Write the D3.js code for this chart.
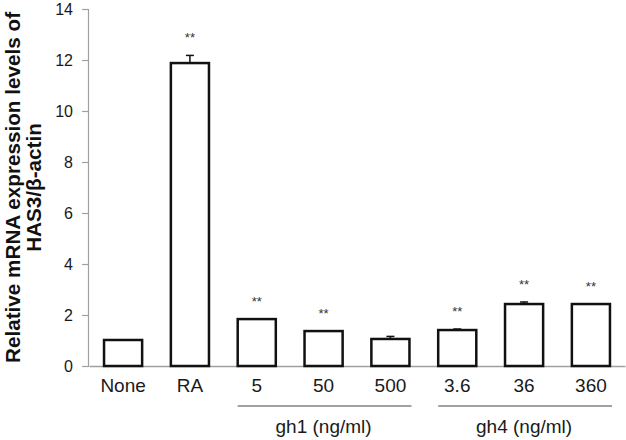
<!DOCTYPE html>
<html>
<head>
<meta charset="utf-8">
<script src="https://cdn.jsdelivr.net/npm/d3@7"></script>
<style>
  body { margin: 0; background: #fff; }
  svg text { font-family: "Liberation Sans", Arial, sans-serif; }
</style>
</head>
<body>
<div id="chart"></div>
<script>
var categories = ['None', 'RA', '5', '50', '500', '3.6', '36', '360'];
var values = [1.02, 11.88, 1.84, 1.37, 1.06, 1.41, 2.43, 2.43];
var errors = [0, 0.3, 0, 0, 0.1, 0.04, 0.08, 0];
var stars = ['', '**', '**', '**', '', '**', '**', '**'];
var yTicks = [0, 2, 4, 6, 8, 10, 12, 14];
var groups = [
  { label: 'gh1 (ng/ml)', from: '5', to: '500' },
  { label: 'gh4 (ng/ml)', from: '3.6', to: '360' }
];

var width = 626, height = 440;
var margin = {top: 9, right: 1, bottom: 74, left: 88};

var svg = d3.select('#chart').append('svg')
    .attr('width', width)
    .attr('height', height);

var x = d3.scaleBand()
    .domain(categories)
    .range([margin.left + 1, width - margin.right])
    .paddingInner(0.43)
    .paddingOuter(0.225);

var y = d3.scaleLinear()
    .domain([0, 14])
    .range([height - margin.bottom, margin.top]);

// y axis
var yAxis = svg.append('g')
    .attr('transform', 'translate(' + margin.left + ',0)')
    .call(d3.axisLeft(y).tickValues(yTicks).tickSize(6).tickPadding(9));
yAxis.select('.domain').attr('stroke', '#a0a0a0').attr('stroke-width', 1.2);
yAxis.selectAll('.tick line').attr('stroke', '#a0a0a0').attr('stroke-width', 1.2);
yAxis.selectAll('.tick text')
    .attr('fill', '#1a1a1a')
    .style('font-size', '16px');

// x axis baseline
var xAxis = svg.append('g')
    .attr('transform', 'translate(0,' + y(0) + ')')
    .call(d3.axisBottom(x).tickSize(0).tickPadding(13));
xAxis.select('.domain').attr('stroke', '#a0a0a0').attr('stroke-width', 1.5);
xAxis.selectAll('.tick text')
    .attr('fill', '#1a1a1a')
    .style('font-size', '19px');

// bars
svg.selectAll('.bar')
    .data(categories)
    .enter().append('rect')
    .attr('class', 'bar')
    .attr('x', d => x(d))
    .attr('y', (d, i) => y(values[i]))
    .attr('width', x.bandwidth())
    .attr('height', (d, i) => y(0) - y(values[i]))
    .attr('fill', '#fff')
    .attr('stroke', '#111')
    .attr('stroke-width', 2.5);

// error bars
var errG = svg.selectAll('.err')
    .data(categories.filter((d, i) => errors[i] > 0))
    .enter().append('g')
    .attr('class', 'err');
errG.append('line')
    .attr('x1', d => x(d) + x.bandwidth() / 2)
    .attr('x2', d => x(d) + x.bandwidth() / 2)
    .attr('y1', d => y(values[categories.indexOf(d)]))
    .attr('y2', d => { var i = categories.indexOf(d); return y(values[i] + errors[i]); })
    .attr('stroke', '#111').attr('stroke-width', 1.5);
errG.append('line')
    .attr('x1', d => x(d) + x.bandwidth() / 2 - 4)
    .attr('x2', d => x(d) + x.bandwidth() / 2 + 4)
    .attr('y1', d => { var i = categories.indexOf(d); return y(values[i] + errors[i]); })
    .attr('y2', d => { var i = categories.indexOf(d); return y(values[i] + errors[i]); })
    .attr('stroke', '#111').attr('stroke-width', 1.5);

// significance stars
svg.selectAll('.star')
    .data(categories)
    .enter().append('text')
    .attr('class', 'star')
    .attr('x', d => x(d) + x.bandwidth() / 2)
    .attr('y', (d, i) => y(values[i] + errors[i]) - 13)
    .attr('text-anchor', 'middle')
    .attr('fill', '#333')
    .style('font-size', '13px')
    .text((d, i) => stars[i]);

// group brackets
groups.forEach(g => {
    var x1 = x(g.from), x2 = x(g.to) + x.bandwidth();
    svg.append('line')
        .attr('x1', x1).attr('x2', x2 + 2)
        .attr('y1', 406).attr('y2', 406)
        .attr('stroke', '#444').attr('stroke-width', 1.2);
    svg.append('text')
        .attr('x', (x1 + x2) / 2)
        .attr('y', 433)
        .attr('text-anchor', 'middle')
        .attr('fill', '#1a1a1a')
        .style('font-size', '19px')
        .text(g.label);
});

// y title
var title = svg.append('text')
    .attr('transform', 'translate(20,' + ((y(0) + y(14)) / 2) + ') rotate(-90)')
    .attr('text-anchor', 'middle')
    .style('font-size', '20.7px')
    .style('font-weight', 'bold')
    .attr('fill', '#111');
title.append('tspan').attr('x', 0).attr('dy', 0).text('Relative mRNA expression levels of');
title.append('tspan').attr('x', 0).attr('dy', 21).text('HAS3/β-actin');
</script>
</body>
</html>
